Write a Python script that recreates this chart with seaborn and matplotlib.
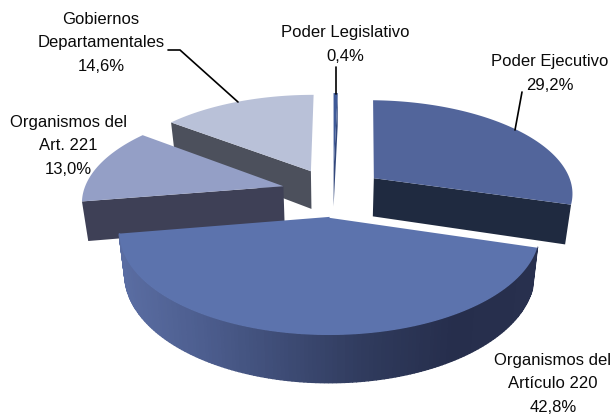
import numpy as np
import matplotlib
matplotlib.use("Agg")
import matplotlib.pyplot as plt
import seaborn as sns

# ---- data (clockwise from 12 o'clock) ----
categories = ["Poder Legislativo", "Poder Ejecutivo", "Organismos del\nArtículo 220",
              "Organismos del\nArt. 221", "Gobiernos\nDepartamentales"]
shares = [0.4, 29.2, 42.8, 13.0, 14.6]

# ---- styles ----
top_colors = ["#3f5a98", "#52659b", "#5c73ad", "#949fc6", "#b9c1d8"]
side_colors = ["#33487c", "#1f2a40", "#2b3452", "#3e4056", "#4c505c"]
front_gradient = ["#5a6da2", "#4c5d8e", "#3d4b74", "#2f3a5c", "#262e4c", "#28304e"]

sns.set_theme(style="white")
plt.rcParams["font.family"] = ["Liberation Sans", "DejaVu Sans"]

# ---- projection ----
CX, CY, A, B, P, DEPTH, EXPL = 333, 192, 200, 93, 0.145, 39, 0.258

def project(x, y, z=0.0):
    x, y = np.asarray(x, float), np.asarray(y, float)
    w = 1 + P * y
    return CX + A * x / w * (1 - 0.025 * z), CY - B * y / w + DEPTH * z / w

fig = plt.figure(figsize=(6.13, 4.16), dpi=100, facecolor="white")
ax = fig.add_axes([0, 0, 1, 1])
ax.set_xlim(0, 613)
ax.set_ylim(416, 0)
ax.axis("off")

edges = np.radians(np.concatenate([[0], np.cumsum(shares)]) * 3.6)

def slice_geo(i):
    t0, t1 = edges[i], edges[i + 1]
    mid = (t0 + t1) / 2
    ox, oy = EXPL * np.sin(mid), EXPL * np.cos(mid)
    t = np.linspace(t0, t1, 100)
    return t, ox, oy

def draw_top(i, **kw):
    t, ox, oy = slice_geo(i)
    xs = np.concatenate([[ox], ox + np.sin(t), [ox]])
    ys = np.concatenate([[oy], oy + np.cos(t), [oy]])
    px, py = project(xs, ys)
    ax.fill(px, py, color=top_colors[i], lw=0, **kw)
    return px, py

def draw_cut(i, theta):
    """Radial cut face at angle theta."""
    _, ox, oy = slice_geo(i)
    xs = np.array([ox, ox + np.sin(theta)])
    ys = np.array([oy, oy + np.cos(theta)])
    x0, y0 = project(xs, ys, 0)
    x1, y1 = project(xs, ys, 1)
    ax.fill(np.r_[x0, x1[::-1]], np.r_[y0, y1[::-1]], color=side_colors[i], lw=0)

# Gobiernos Departamentales
draw_cut(4, edges[4])
draw_top(4)
# Poder Legislativo
draw_cut(0, edges[1])
draw_top(0)
# Organismos del Art. 221
draw_cut(3, edges[3])
draw_top(3)
# Poder Ejecutivo
draw_cut(1, edges[2])
draw_top(1)

# Organismos del Artículo 220: curved side with a gradient, light left to dark right
t, ox, oy = slice_geo(2)
tt = np.linspace(edges[2], edges[3], 160)
xt, yt = project(ox + np.sin(tt), oy + np.cos(tt), 0)
xb, yb = project(ox + np.sin(tt), oy + np.cos(tt), 1)
grad = sns.blend_palette(front_gradient, 160)
span = xt.max() - xt.min()
for j in range(len(tt) - 1):
    c = grad[int(np.clip((xt[j] - xt.min()) / span, 0, 1) * 159)]
    ax.fill([xt[j], xt[j + 1], xb[j + 1], xb[j]], [yt[j], yt[j + 1], yb[j + 1], yb[j]],
            color=c, lw=1.0)
px, py = draw_top(2)
# thin white separation along the slice's upper right edge
ax.plot([px[0], px[1]], [py[0], py[1]], color="white", lw=1.4, solid_capstyle="butt")

# ---- labels ----
def lab(i):
    return f"{categories[i]}\n{shares[i]:.1f}%".replace(".", ",").replace("Art,", "Art.")

kw = dict(ha="center", va="center", fontsize=12.0, color="#0a0a0a", linespacing=1.72)
ax.text(345, 44.5, lab(0), **kw)
ax.text(550, 73.5, lab(1), **kw)
ax.text(553, 384, lab(2), **kw)
ax.text(68, 146, lab(3), **kw)
ax.text(101, 43, lab(4), **kw)

# ---- leader lines ----
for lx, ly in [([168, 180, 238], [50, 50, 102]),
               ([336, 336], [67, 94]),
               ([522, 515], [92, 130])]:
    ax.plot(lx, ly, color="black", lw=1.2, solid_joinstyle="miter")

fig.savefig("out.png", dpi=100, facecolor="white")
